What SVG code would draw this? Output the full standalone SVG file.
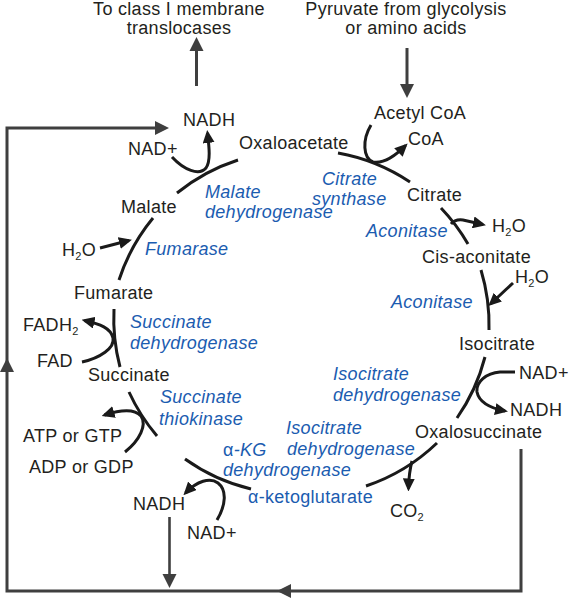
<svg xmlns="http://www.w3.org/2000/svg" width="571" height="600" viewBox="0 0 571 600">
<style>
text{font-family:"Liberation Sans",Arial,Helvetica,sans-serif;font-size:18px;letter-spacing:0.3px;fill:#231f20}
.enz{fill:#1b5cb0;font-style:italic}
.blue{fill:#1b5cb0}
.sub{font-size:11px}
.arc{fill:none;stroke:#1a1a1a;stroke-width:3}
.side{fill:none;stroke:#1a1a1a;stroke-width:3;marker-end:url(#ah)}
.frame{fill:none;stroke:#3f3f3f;stroke-width:3}
.fhead{fill:#3f3f3f}
.mid{text-anchor:middle}
</style>
<defs>
<marker id="ah" viewBox="0 0 13 12" refX="10" refY="6" markerWidth="13" markerHeight="12" markerUnits="userSpaceOnUse" orient="auto">
<path d="M0,0 L13,6 L0,12 z" fill="#1a1a1a"/>
</marker>
</defs>

<g id="connectors">
<!-- frame / outer arrows -->
<path class="frame" d="M196.5,86 L196.5,50"/>
<polygon class="fhead" points="196.5,37 203.5,51 189.5,51"/>
<path class="frame" d="M407,48 L407,85"/>
<polygon class="fhead" points="407,98 400,84 414,84"/>
<path class="frame" d="M521,449 L521,591 L7,591 L7,128 L156,128"/>
<polygon class="fhead" points="169,128 155,121 155,135"/>
<polygon class="fhead" points="7,358 0,372 14,372"/>
<polygon class="fhead" points="277,591 291,584 291,598"/>
<path class="frame" d="M169.5,517 L169.5,575" style="stroke-width:2.6"/>
<polygon class="fhead" points="169.5,588 162.5,574 176.5,574"/>
<!-- cycle arcs -->
<path class="arc" d="M177,193 A190,190 0 0 1 238,160"/>
<path class="arc" d="M338,153 A190,190 0 0 1 410,182"/>
<path class="arc" d="M441,208 A190,190 0 0 1 468,244"/>
<path class="arc" d="M481,270 A190,190 0 0 1 489,330"/>
<path class="arc" d="M485,357 A190,190 0 0 1 457,418"/>
<path class="arc" d="M437,443 A190,190 0 0 1 366,486"/>
<path class="arc" d="M251,489 A190,190 0 0 1 185,459"/>
<path class="arc" d="M157,436 A190,190 0 0 1 129,392"/>
<path class="arc" d="M120,367 A190,190 0 0 1 114,309"/>
<path class="arc" d="M119,280 A190,190 0 0 1 153,218"/>
<!-- side reactions -->
<path class="side" d="M172,157 C184,170 199,176 206,168 C211,161 209,146 207.5,133"/>
<path class="side" d="M371,125 C362,140 363,158 373,162 C385,164 396,155 405.5,145.5"/>
<path class="side" d="M451,224 Q455,219 463,220 L483,224.5"/>
<path class="side" d="M513,283 L490.5,304"/>
<path class="side" d="M515,372 L500,372 C486,373 476,382 477,392 C479,402 490,408 505,411"/>
<path class="side" d="M412,461 Q409,472 408.5,488.5"/>
<path class="side" d="M217,520 C226,505 227,490 218,483 C210,477 197,481 185.5,493"/>
<path class="side" d="M125,452 C140,440 147,425 141,416 C134,408 120,410 104.5,415"/>
<path class="side" d="M82,362 C100,358 115,348 113,338 C111,328 100,324 84.5,320.5"/>
<path class="side" d="M100,248 L129,240.5"/>
</g>

<g id="label-translocases"><text class="mid" x="179" y="15">To class I membrane</text><text class="mid" x="179" y="34">translocases</text></g>
<g id="label-pyruvate"><text class="mid" x="406" y="15">Pyruvate from glycolysis</text><text class="mid" x="406" y="34">or amino acids</text></g>

<g id="node-nadh-top"><text x="183" y="126">NADH</text></g>
<g id="node-nad-top"><text x="128" y="155">NAD+</text></g>
<g id="node-oxaloacetate"><text x="239" y="149">Oxaloacetate</text></g>
<g id="node-acetylcoa"><text x="374" y="119">Acetyl CoA</text></g>
<g id="node-coa"><text x="408" y="145">CoA</text></g>
<g id="node-citrate"><text x="407" y="201">Citrate</text></g>
<g id="node-h2o-1"><text x="492" y="231.5">H<tspan class="sub" dy="4">2</tspan><tspan dy="-4">O</tspan></text></g>
<g id="node-cisaconitate"><text x="422" y="263">Cis-aconitate</text></g>
<g id="node-h2o-2"><text x="515" y="283">H<tspan class="sub" dy="4">2</tspan><tspan dy="-4">O</tspan></text></g>
<g id="node-isocitrate"><text x="459" y="350">Isocitrate</text></g>
<g id="node-nad-iso"><text x="519" y="379">NAD+</text></g>
<g id="node-nadh-iso"><text x="510" y="415.5">NADH</text></g>
<g id="node-oxalosuccinate"><text x="415" y="438">Oxalosuccinate</text></g>
<g id="node-co2"><text x="390" y="516.5">CO<tspan class="sub" dy="4">2</tspan></text></g>
<g id="node-akg"><text class="blue" x="248" y="503">α-ketoglutarate</text></g>
<g id="node-nadh-bottom"><text x="133" y="510">NADH</text></g>
<g id="node-nad-bottom"><text x="187" y="539">NAD+</text></g>
<g id="node-adp"><text x="29" y="473">ADP or GDP</text></g>
<g id="node-atp"><text x="23" y="441.5">ATP or GTP</text></g>
<g id="node-succinate"><text x="88" y="381">Succinate</text></g>
<g id="node-fad"><text x="37" y="367">FAD</text></g>
<g id="node-fadh2"><text x="23" y="330.5">FADH<tspan class="sub" dy="4">2</tspan></text></g>
<g id="node-fumarate"><text x="74" y="299">Fumarate</text></g>
<g id="node-h2o-3"><text x="62" y="255.5">H<tspan class="sub" dy="4">2</tspan><tspan dy="-4">O</tspan></text></g>
<g id="node-malate"><text x="121" y="213">Malate</text></g>

<g id="enz-malate-dh"><text class="enz" x="205" y="198">Malate</text><text class="enz" x="205" y="218">dehydrogenase</text></g>
<g id="enz-citrate-synthase"><text class="enz" x="322" y="184.5">Citrate</text><text class="enz" x="312" y="205">synthase</text></g>
<g id="enz-aconitase-1"><text class="enz" x="366" y="236.5">Aconitase</text></g>
<g id="enz-aconitase-2"><text class="enz" x="391" y="307.5">Aconitase</text></g>
<g id="enz-fumarase"><text class="enz" x="145" y="255">Fumarase</text></g>
<g id="enz-succinate-dh"><text class="enz" x="130" y="327.5">Succinate</text><text class="enz" x="130" y="348.5">dehydrogenase</text></g>
<g id="enz-succinate-thiokinase"><text class="enz" x="160" y="403">Succinate</text><text class="enz" x="159" y="424.5">thiokinase</text></g>
<g id="enz-isocitrate-dh-1"><text class="enz" x="333" y="380">Isocitrate</text><text class="enz" x="333" y="400.5">dehydrogenase</text></g>
<g id="enz-isocitrate-dh-2"><text class="enz" x="286" y="434">Isocitrate</text><text class="enz" x="287" y="454.5">dehydrogenase</text></g>
<g id="enz-akg-dh"><text class="enz" x="223" y="456"><tspan style="font-style:normal">α</tspan>-KG</text><text class="enz" x="223" y="476">dehydrogenase</text></g>
</svg>
